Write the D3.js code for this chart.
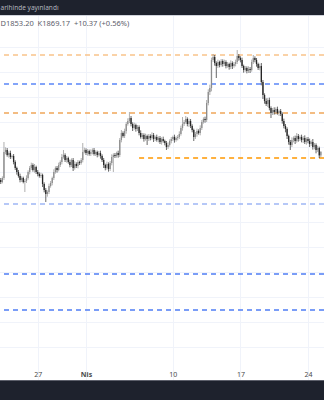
<!DOCTYPE html>
<html>
<head>
<meta charset="utf-8">
<script src="https://cdn.jsdelivr.net/npm/d3@7"></script>
<style>
  html, body { margin: 0; padding: 0; background: #fff; overflow: hidden; }
  svg { display: block; font-family: "Noto Sans", "DejaVu Sans", sans-serif; }
</style>
</head>
<body>
<svg id="chart"></svg>
<script>
// 4 saatlik mumlar, 23 Mart 00:00'dan itibaren
const firstOpen = 1781;
const closes = [
  1785, 1779, 1791, 1869, 1875, 1860, 1866, 1854, 1857, 1839,
  1821, 1809, 1797, 1785, 1791, 1779, 1782, 1791, 1809, 1821,
  1830, 1815, 1824, 1809, 1803, 1797, 1800, 1773, 1755, 1743,
  1749, 1767, 1776, 1791, 1809, 1821, 1815, 1830, 1839, 1854,
  1860, 1845, 1851, 1839, 1830, 1845, 1821, 1833, 1827, 1839,
  1836, 1845, 1869, 1875, 1866, 1872, 1863, 1869, 1875, 1863,
  1869, 1860, 1866, 1857, 1845, 1830, 1821, 1833, 1818, 1836,
  1854, 1860, 1857, 1866, 1860, 1905, 1926, 1917, 1932, 1953,
  1962, 1971, 1953, 1941, 1950, 1938, 1944, 1926, 1914, 1920,
  1908, 1917, 1908, 1917, 1911, 1920, 1908, 1914, 1905, 1911,
  1899, 1908, 1902, 1896, 1884, 1890, 1902, 1908, 1914, 1905,
  1911, 1914, 1923, 1941, 1953, 1959, 1968, 1953, 1962, 1947,
  1935, 1914, 1923, 1932, 1926, 1941, 1959, 1968, 1965, 2016,
  2049, 2061, 2145, 2154, 2136, 2127, 2139, 2130, 2142, 2133,
  2139, 2127, 2133, 2124, 2136, 2127, 2133, 2139, 2157, 2151,
  2145, 2127, 2115, 2121, 2112, 2118, 2115, 2139, 2151, 2145,
  2133, 2121, 2127, 2079, 2040, 2022, 2013, 2025, 2001, 1986,
  1995, 1989, 1998, 1986, 1992, 1983, 1962, 1947, 1938, 1917,
  1899, 1890, 1905, 1911, 1902, 1917, 1908, 1914, 1905, 1911,
  1899, 1908, 1902, 1893, 1899, 1884, 1890, 1875, 1881, 1858.8,
  1869.17
];
// fitil uzunluklari (fiyat birimi)
const wickUp = [
  4, 6, 5, 30, 8, 6, 5, 7, 4, 6,
  5, 4, 6, 7, 5, 4, 6, 8, 5, 6,
  7, 5, 9, 4, 6, 5, 7, 4, 5, 6,
  5, 7, 6, 4, 8, 5, 6, 7, 5, 9,
  15, 5, 6, 4, 7, 5, 6, 8, 5, 6,
  4, 6, 27, 7, 5, 6, 4, 8, 5, 6,
  5, 4, 6, 7, 5, 6, 4, 7, 5, 6,
  8, 5, 6, 4, 7, 6, 9, 5, 7, 6,
  8, 18, 6, 5, 7, 4, 6, 5, 8, 6,
  5, 7, 4, 6, 5, 8, 6, 4, 7, 5,
  6, 5, 7, 4, 6, 8, 5, 6, 4, 7,
  5, 6, 8, 7, 21, 6, 9, 5, 7, 6,
  5, 4, 6, 7, 5, 8, 6, 5, 7, 9,
  8, 10, 7, 9, 6, 5, 7, 4, 6, 5,
  7, 5, 6, 4, 8, 5, 6, 7, 18, 6,
  5, 7, 4, 6, 5, 8, 6, 7, 9, 5,
  6, 4, 7, 9, 6, 5, 8, 6, 7, 5,
  6, 8, 5, 7, 4, 6, 5, 7, 6, 5,
  4, 6, 8, 5, 7, 9, 6, 5, 7, 6,
  8, 5, 6, 7, 5, 9, 6, 5, 7, 4,
  2.8
];
const wickDown = [
  5, 6, 4, 6, 7, 5, 8, 6, 5, 7,
  6, 8, 5, 7, 6, 4, 30, 6, 5, 7,
  6, 5, 8, 6, 7, 5, 6, 9, 7, 24,
  8, 6, 5, 7, 6, 5, 8, 4, 6, 7,
  5, 6, 8, 5, 7, 6, 9, 5, 6, 7,
  6, 5, 7, 4, 6, 8, 5, 6, 7, 5,
  6, 7, 5, 8, 6, 9, 7, 5, 8, 6,
  7, 45, 6, 5, 8, 6, 7, 5, 6, 8,
  5, 6, 7, 9, 5, 8, 6, 7, 5, 6,
  8, 5, 18, 6, 7, 5, 9, 6, 5, 7,
  6, 8, 5, 7, 9, 6, 5, 7, 6, 8,
  5, 7, 6, 5, 8, 6, 5, 7, 9, 6,
  7, 12, 6, 8, 5, 7, 6, 5, 8, 6,
  7, 9, 10, 6, 8, 36, 6, 7, 5, 8,
  6, 7, 5, 8, 6, 9, 5, 7, 6, 8,
  7, 6, 8, 5, 7, 6, 9, 5, 6, 7,
  8, 6, 7, 10, 12, 8, 6, 9, 7, 15,
  6, 8, 7, 5, 9, 6, 8, 7, 10, 9,
  8, 15, 6, 7, 9, 5, 8, 6, 7, 9,
  6, 8, 7, 9, 6, 8, 7, 10, 6, 8,
  5.6
];

const tickDates = [new Date(2023, 2, 27), new Date(2023, 3, 1), new Date(2023, 3, 10), new Date(2023, 3, 17), new Date(2023, 3, 24)];
const tickLabels = ['27', 'Nis', '10', '17', '24'];
const gridPrices = [2184, 2109, 2034, 1959, 1884, 1809, 1734, 1659, 1584, 1509, 1434, 1359, 1284];

// yatay seviyeler (fiyat, renk, baslangic tarihi)
const levelPrices = [2160, 2073, 1986, 1851, 1713, 1503, 1395];
const levelColors = ['#f9c48a', '#5b87f7', '#f0a65a', '#ff9800', '#9fb6f5', '#4f7ef5', '#4f7ef5'];
const levelStarts = [null, null, null, new Date(2023, 3, 6, 12), null, null, null];

const W = 324, H = 400;
const topY = 15, bottomY = 380;

const times = d3.timeHour.every(4).range(new Date(2023, 2, 23), new Date(2023, 3, 26)).slice(0, closes.length);
const candles = closes.map((c, i) => {
  const o = i === 0 ? firstOpen : closes[i - 1];
  return { t: times[i], o, c, h: Math.max(o, c) + wickUp[i], l: Math.min(o, c) - wickDown[i] };
});

const x = d3.scaleTime()
  .domain([new Date(2023, 2, 23), new Date(2023, 3, 26)])
  .range([-0.87, 327.3]);
const y = d3.scaleLinear()
  .domain([1125, 2325])
  .range([400, 0]);

const svg = d3.select('#chart').attr('width', W).attr('height', H);

svg.append('rect').attr('width', W).attr('height', H).attr('fill', '#ffffff');

// grid
const grid = svg.append('g');
grid.selectAll('.hg').data(gridPrices).enter().append('line')
  .attr('x1', 0).attr('x2', W)
  .attr('y1', d => Math.round(y(d)) + 0.5).attr('y2', d => Math.round(y(d)) + 0.5)
  .attr('stroke', '#f0f3fa').attr('stroke-width', 1);
grid.selectAll('.vg').data(tickDates).enter().append('line')
  .attr('x1', d => Math.round(x(d)) + 0.5).attr('x2', d => Math.round(x(d)) + 0.5)
  .attr('y1', topY).attr('y2', bottomY)
  .attr('stroke', '#f0f3fa').attr('stroke-width', 1);

// seviye cizgileri
svg.append('g').selectAll('line').data(levelPrices).enter().append('line')
  .attr('x1', (d, i) => levelStarts[i] ? x(levelStarts[i]) : 4)
  .attr('x2', W)
  .attr('y1', d => y(d)).attr('y2', d => y(d))
  .attr('stroke', (d, i) => levelColors[i])
  .attr('stroke-width', 1.3)
  .attr('stroke-dasharray', '5,4');

// mumlar
const upCol = '#8c8c8c', downCol = '#262626';
const cg = svg.append('g');
cg.selectAll('.wick').data(candles).enter().append('line')
  .attr('x1', d => x(d.t)).attr('x2', d => x(d.t))
  .attr('y1', d => y(d.h)).attr('y2', d => y(d.l))
  .attr('stroke', d => d.c >= d.o ? upCol : downCol)
  .attr('stroke-width', 0.7);
cg.selectAll('.body').data(candles).enter().append('rect')
  .attr('x', d => x(d.t) - 0.65)
  .attr('width', 1.3)
  .attr('y', d => y(Math.max(d.o, d.c)))
  .attr('height', d => Math.max(0.8, Math.abs(y(d.o) - y(d.c))))
  .attr('fill', d => d.c >= d.o ? upCol : downCol);

// x ekseni
const xAxis = svg.append('g').attr('transform', `translate(0,${bottomY - 3})`)
  .call(d3.axisBottom(x).tickValues(tickDates).tickSize(0).tickFormat((d, i) => tickLabels[i]));
xAxis.select('.domain').remove();
xAxis.selectAll('text')
  .attr('dy', 0).attr('y', 0)
  .attr('fill', '#4a4a4a')
  .attr('font-size', 7)
  .attr('font-weight', (d, i) => tickLabels[i] === 'Nis' ? 'bold' : 'normal')
  .attr('font-family', '"Noto Sans", "DejaVu Sans", sans-serif');

// ust ve alt koyu seritler
svg.append('rect').attr('x', 0).attr('y', 0).attr('width', W).attr('height', topY).attr('fill', '#1e222d');
svg.append('line').attr('x1', 0).attr('x2', W).attr('y1', topY + 0.5).attr('y2', topY + 0.5).attr('stroke', '#d1d4dc');
svg.append('text').attr('x', 0.5).attr('y', 9.5)
  .attr('font-size', 6.5).attr('fill', '#b2b5be')
  .text('arihinde yayınlandı');

svg.append('rect').attr('x', 0).attr('y', bottomY).attr('width', W).attr('height', H - bottomY).attr('fill', '#1e222d');
svg.append('line').attr('x1', 0).attr('x2', W).attr('y1', bottomY + 0.5).attr('y2', bottomY + 0.5).attr('stroke', '#5d606b');

// OHLC satiri
const last = candles[candles.length - 1];
const prev = candles[candles.length - 2];
const chg = last.c - prev.c;
svg.append('text').attr('x', 0.5).attr('y', 25.5)
  .attr('font-size', 7.5).attr('fill', '#5d606b')
  .attr('xml:space', 'preserve')
  .text(`D${last.l.toFixed(2)}  K${last.c.toFixed(2)}  +${chg.toFixed(2)} (+${(chg / prev.c * 100).toFixed(2)}%)`);
</script>
</body>
</html>
